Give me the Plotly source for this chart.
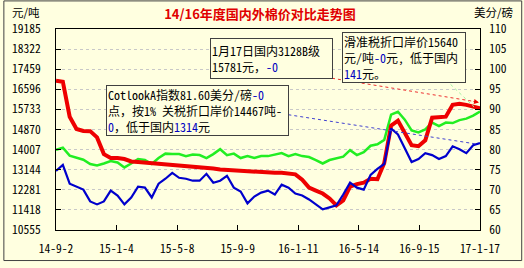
import plotly.graph_objects as go

dates = ["2014-09-02","2014-09-16","2014-09-30","2014-10-14","2014-10-28","2014-11-11","2014-11-25","2014-12-09","2014-12-23",
         "2015-01-06","2015-01-20","2015-02-03","2015-02-17","2015-03-03","2015-03-17","2015-03-31","2015-04-14","2015-04-28",
         "2015-05-12","2015-05-26","2015-06-09","2015-06-23","2015-07-07","2015-07-21","2015-08-04","2015-08-18","2015-09-01",
         "2015-09-15","2015-09-29","2015-10-13","2015-10-27","2015-11-10","2015-11-24","2015-12-08","2015-12-22",
         "2016-01-05","2016-01-19","2016-02-02","2016-02-16","2016-03-01","2016-03-15","2016-03-29","2016-04-12","2016-04-26",
         "2016-05-10","2016-05-24","2016-06-07","2016-06-21","2016-07-05","2016-07-19","2016-08-02","2016-08-16","2016-08-30",
         "2016-09-13","2016-09-27","2016-10-11","2016-10-25","2016-11-08","2016-11-22","2016-12-06","2016-12-20",
         "2017-01-03","2017-01-17"]

# 国内3128B (元/吨)
domestic = [16964,16922,15420,14892,14807,14800,14532,13813,13644,13644,13601,13496,13475,13453,13432,13411,13390,13369,
            13348,13326,13305,13284,13242,13200,13157,13136,13115,13073,13052,13030,13030,13030,13009,13009,12988,12946,
            12713,12375,12248,12121,11909,11613,11825,12417,12523,12586,12756,12735,13432,15040,15251,14700,14194,14152,
            14405,15378,15378,15420,15928,15970,15928,15843,15781]

# 滑准税折口岸价 (元/吨)
slider = [13995,14088,13749,13644,13572,13390,13326,13411,13517,13453,13242,13411,13601,13559,13390,13644,13834,13813,
          13813,13728,13792,13771,13644,13813,14024,13771,13834,13644,13728,13644,13728,13728,13792,13855,13728,13813,
          13728,13686,13559,13411,13559,13623,13707,13982,13771,13897,14172,14236,14426,15505,15632,15293,14828,14743,
          14870,15166,15018,15166,15145,15272,15336,15463,15640]

# CotlookA (美分/磅)
cotlook = [74.71,76.18,71.52,70.78,70.05,67.11,66.37,67.11,69.80,68.58,66.37,68.09,70.78,70.54,68.09,71.52,72.75,74.22,
           72.99,72.75,72.26,72.26,73.97,71.76,72.26,73.48,70.54,69.56,66.62,68.33,69.31,69.80,68.82,71.27,70.54,69.07,
           68.58,67.60,66.37,65.15,65.64,66.13,68.82,71.76,70.54,70.05,73.73,75.20,76.42,85.25,83.77,80.34,76.91,77.65,
           79.12,78.63,77.65,78.38,80.83,80.10,79.12,81.08,81.60]

x_tick_dates = ["2014-09-02","2015-01-04","2015-05-08","2015-09-09","2016-01-11","2016-05-14","2016-09-15","2017-01-17"]
x_tick_text = ["14-9-2","15-1-4","15-5-8","15-9-9","16-1-11","16-5-14","16-9-15","17-1-17"]
left_ticks = [10555,11418,12281,13144,14007,14870,15733,16596,17459,18322,19185]
right_ticks = [60,65,70,75,80,85,90,95,100,105,110]

BG = "#FFFFE0"
MONO = "Noto Sans Mono CJK SC, Noto Sans CJK SC, monospace"
BLUE_TXT = "#0000C0"

fig = go.Figure()
fig.add_trace(go.Scatter(x=dates, y=slider, mode="lines", line=dict(color="#22EE22", width=2.5), yaxis="y"))
fig.add_trace(go.Scatter(x=dates, y=domestic, mode="lines", line=dict(color="#EE0000", width=4), yaxis="y"))
fig.add_trace(go.Scatter(x=dates, y=cotlook, mode="lines", line=dict(color="#0000CC", width=2.2), yaxis="y2"))

axis_font = dict(family=MONO, size=11.5, color="#000000")
fig.update_layout(
    width=524, height=268, autosize=False,
    margin=dict(l=53, r=44, t=29, b=35, pad=0),
    paper_bgcolor=BG, plot_bgcolor=BG,
    showlegend=False,
    title=dict(text="<b>14/16年度国内外棉价对比走势图</b>", x=260/524, xanchor="center", y=1-14/268, yanchor="middle",
               font=dict(family="Noto Sans CJK SC", size=13, color="#E00000")),
    xaxis=dict(type="date", range=["2014-09-02", "2017-01-17"], tickvals=x_tick_dates, ticktext=x_tick_text,
               ticks="inside", ticklen=5, tickcolor="#000", showline=True, linecolor="#000", linewidth=1, mirror=True,
               showgrid=False, zeroline=False, tickfont=axis_font, ticklabelstandoff=8),
    yaxis=dict(range=[10555, 19185], tickvals=left_ticks, ticktext=[str(v) for v in left_ticks],
               ticks="inside", ticklen=5, tickcolor="#000", showline=True, linecolor="#000", linewidth=1,
               showgrid=True, gridcolor="#C8C8C8", griddash="3px,3px", gridwidth=1, zeroline=False,
               tickfont=axis_font, ticklabelstandoff=12),
    yaxis2=dict(range=[60, 110], tickvals=right_ticks, ticktext=[str(v) for v in right_ticks], overlaying="y", side="right",
                ticks="inside", ticklen=5, tickcolor="#000", showline=True, linecolor="#000", linewidth=1,
                showgrid=False, zeroline=False, tickfont=axis_font, ticklabelstandoff=6),
)

def px2paper(px, py):
    return (px - 53) / 427, (233 - py) / 204

anns = []
# axis unit labels
ux, uy = px2paper(7, 12)
anns.append(dict(text="元/吨", xref="paper", yref="paper", x=ux, y=uy, xanchor="left", yanchor="middle", showarrow=False,
                 font=dict(family="Noto Sans CJK SC", size=11.5, color="#000")))
ux, uy = px2paper(472, 12)
anns.append(dict(text="美分/磅", xref="paper", yref="paper", x=ux, y=uy, xanchor="left", yanchor="middle", showarrow=False,
                 font=dict(family="Noto Sans CJK SC", size=11.5, color="#000")))

def box(text, left, top, w, h):
    bx, by = px2paper(left, top)
    return dict(text=text, xref="paper", yref="paper", x=bx, y=by, xanchor="left", yanchor="top", showarrow=False,
                align="left", valign="middle", width=w, height=h, bgcolor=BG, bordercolor="#404040", borderwidth=1,
                borderpad=1, font=dict(family=MONO, size=12, color="#000"))

blue = lambda s: f'<span style="color:{BLUE_TXT}">{s}</span>'
anns.append(box(f"1月17日国内3128B级<br>15781元，{blue('-0')}", 208, 38, 119, 37))
anns.append(box(f"CotlookA指数81.60美分/磅{blue('-0')}<br>点，按1% 关税折口岸价14467吨-<br>{blue('0')}，低于国内{blue('1314')}元",
                103, 86, 179, 47))
anns.append(box(f"滑准税折口岸价15640<br>元/吨{blue('-0')}元, 低于国内<br>{blue('141')}元。", 341, 32, 120, 47))

# arrowhead for red connector
ax1, ay1 = px2paper(479, 103.5)
anns.append(dict(text="", xref="paper", yref="paper", x=ax1, y=ay1, ax=-7, ay=-1.2, showarrow=True,
                 arrowhead=2, arrowsize=1, arrowwidth=1, arrowcolor="#EE0000"))

shapes = []
def seg(p0, p1, color):
    x0, y0 = px2paper(*p0)
    x1, y1 = px2paper(*p1)
    return dict(type="line", xref="paper", yref="paper", x0=x0, y0=y0, x1=x1, y1=y1,
                line=dict(color=color, width=1, dash="dot"))

shapes.append(seg((331, 79), (477, 103), "#EE3030"))
shapes.append(seg((287, 116), (478, 146), "#4040D0"))
shapes.append(seg((446, 81), (474, 108), "#A0F0A0"))
# outer frame
fx0, fy0 = px2paper(0.5, 0.5)
fx1, fy1 = px2paper(522, 264)
shapes.append(dict(type="rect", xref="paper", yref="paper", x0=fx0, y0=fy1, x1=fx1, y1=fy0,
                   line=dict(color="#404040", width=1), fillcolor="rgba(0,0,0,0)"))

fig.update_layout(annotations=anns, shapes=shapes)
fig.write_html("out.html")
